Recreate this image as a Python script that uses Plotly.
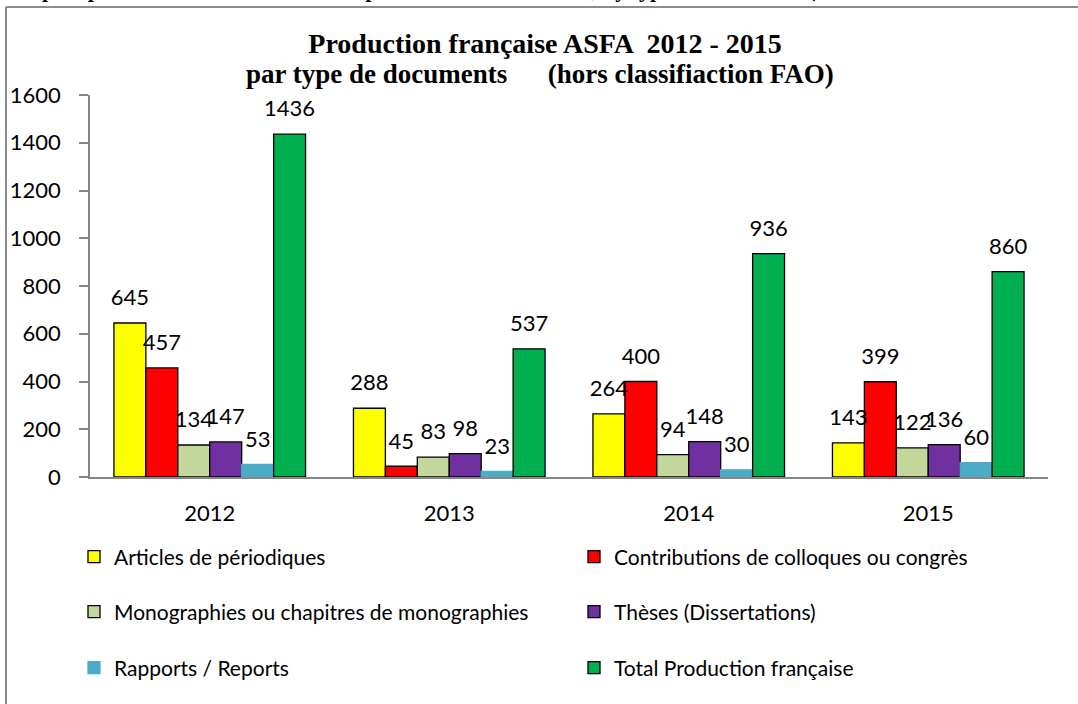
import plotly.graph_objects as go

years = ["2012", "2013", "2014", "2015"]
articles = [645, 288, 264, 143]
contributions = [457, 45, 400, 399]
monographies = [134, 83, 94, 122]
theses = [147, 98, 148, 136]
rapports = [53, 23, 30, 60]
total = [1436, 537, 936, 860]

series_names = [
    "Articles de périodiques",
    "Contributions de colloques ou congrès",
    "Monographies ou chapitres de monographies",
    "Thèses (Dissertations)",
    "Rapports / Reports",
    "Total Production française",
]
series_values = [articles, contributions, monographies, theses, rapports, total]
colors = ["#FFFF00", "#FF0000", "#C3D69B", "#7030A0", "#4BACC6", "#00B050"]
outline = ["#000000", "#000000", "#000000", "#000000", "#4BACC6", "#000000"]
legend_ids = ["legend", "legend", "legend2", "legend2", "legend3", "legend3"]

FONT = "Lato"

fig = go.Figure()
for name, vals, col, oc, lg in zip(series_names, series_values, colors, outline, legend_ids):
    fig.add_trace(go.Bar(
        x=years, y=vals, name=name,
        marker=dict(color=col, line=dict(color=oc, width=1.3)),
        legend=lg,
    ))

# data labels: grouped scatter text placed above each bar
for name, vals in zip(series_names, series_values):
    fig.add_trace(go.Scatter(
        x=years, y=vals, mode="markers+text", text=[str(v) for v in vals],
        textposition="top center",
        textfont=dict(family=FONT, size=22, color="#000000"),
        marker=dict(size=18, opacity=0),
        showlegend=False, hoverinfo="skip", cliponaxis=False,
    ))

W, H = 1078, 704
L, R, T, B = 90, 30, 95, 227
ph = H - T - B
pw = W - L - R

def py(px):
    return (H - B - px) / ph

def pxx(px):
    return (px - L) / pw

leg_common = dict(
    orientation="h", xanchor="left", yanchor="middle",
    font=dict(family=FONT, size=21, color="#000000"),
    entrywidth=455, entrywidthmode="pixels",
    bgcolor="rgba(0,0,0,0)", itemclick=False, itemdoubleclick=False,
)

fig.update_layout(
    width=W, height=H,
    margin=dict(l=L, r=R, t=T, b=B, autoexpand=False),
    paper_bgcolor="white", plot_bgcolor="white",
    barmode="group", bargap=0.2, bargroupgap=0,
    scattermode="group", scattergap=0.2,
    title=dict(
        text="Production française ASFA  2012 - 2015",
        font=dict(family="Liberation Serif", size=28, color="#000000", weight="bold"),
        x=0.475, xanchor="center", xref="paper",
        y=1 - 43 / H, yanchor="middle", yref="container",
    ),
    legend=dict(x=pxx(74), y=py(557), **leg_common),
    legend2=dict(x=pxx(74), y=py(612), **leg_common),
    legend3=dict(x=pxx(74), y=py(668), **leg_common),
    xaxis=dict(
        showline=True, linecolor="#868686", linewidth=1.5,
        ticks="", showgrid=False,
        tickfont=dict(family=FONT, size=22, color="#000000"),
        ticklabelstandoff=16,
    ),
    yaxis=dict(
        range=[0, 1600], dtick=200, tick0=0,
        showline=True, linecolor="#868686", linewidth=1.5,
        ticks="outside", ticklen=9, tickcolor="#868686", tickwidth=1.5,
        showgrid=False, zeroline=False,
        tickfont=dict(family=FONT, size=22, color="#000000"),
        ticklabelstandoff=14,
    ),
    yaxis2=dict(
        overlaying="y", side="left", range=[0, 1600], dtick=200, tick0=0,
        ticks="inside", ticklen=7, tickcolor="#868686", tickwidth=1.5,
        showticklabels=False, showgrid=False, zeroline=False, showline=False,
    ),
    showlegend=True,
)

# second title line
fig.add_annotation(
    text="par type de documents      (hors classifiaction FAO)",
    xref="paper", yref="paper", x=pxx(540), y=py(74), xanchor="center", yanchor="middle",
    showarrow=False, font=dict(family="Liberation Serif", size=27, color="#000000", weight="bold"),
)

# outer frame of the embedded chart
fig.add_shape(type="line", xref="paper", yref="paper",
              x0=pxx(6), x1=pxx(1100), y0=py(7), y1=py(7),
              line=dict(color="#8C8C8C", width=2))
fig.add_shape(type="line", xref="paper", yref="paper",
              x0=pxx(6), x1=pxx(6), y0=py(7), y1=py(720),
              line=dict(color="#8C8C8C", width=2))

# clipped caption line above the chart frame
fig.add_annotation(
    text="Graphic presentation of French ASFA publications 2012 - 2015, by type of documents (not in FAO classification mode)",
    xref="paper", yref="paper", x=pxx(2), y=py(4), xanchor="left", yanchor="bottom",
    showarrow=False, font=dict(family="Liberation Serif", size=22, color="#000000", weight="bold"),
)

fig.write_html("out.html", config={"displayModeBar": False},
               post_script="document.body.style.margin='0px';")
